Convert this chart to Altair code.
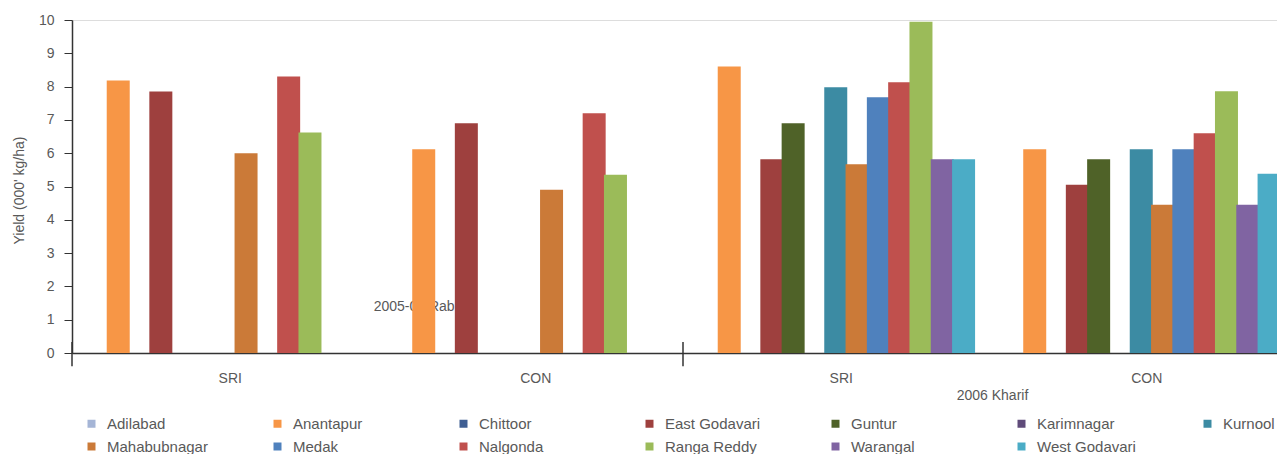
import altair as alt
import pandas as pd

districts = ["Adilabad", "Anantapur", "Chittoor", "East Godavari", "Guntur",
             "Karimnagar", "Kurnool", "Mahabubnagar", "Medak", "Nalgonda",
             "Ranga Reddy", "Warangal", "West Godavari"]
colors = ["#A5B5D6", "#F79646", "#3F5F93", "#9E403E", "#4F6228", "#5F4B7A",
          "#3C8BA3", "#CB7A38", "#4F81BD", "#C0504D", "#9BBB59", "#8064A2",
          "#4BACC6"]
seasons = ["2005-06 Rabi", "2006 Kharif"]
methods = ["SRI", "CON"]

rabi_sri = [None, 8.18, None, 7.85, None, None, None, 6.0, None, 8.3, 6.62, None, None]
rabi_con = [None, 6.12, None, 6.9, None, None, None, 4.9, None, 7.2, 5.35, None, None]
kharif_sri = [None, 8.6, None, 5.82, 6.9, None, 7.98, 5.67, 7.68, 8.13, 9.95, 5.82, 5.82]
kharif_con = [None, 6.12, None, 5.05, 5.82, None, 6.12, 4.45, 6.12, 6.6, 7.86, 4.45, 5.38]

rabi_label_y = 1.38

# category layout (in slot units): 4 groups of 13 district slots with outer padding
PAD = 0.67
G = len(districts) + 2 * PAD
group_names = [f"{s}|{m}" for s in seasons for m in methods]

rows = []
for gi, series in enumerate([rabi_sri, rabi_con, kharif_sri, kharif_con]):
    for di, (d, v) in enumerate(zip(districts, series)):
        if v is not None:
            rows.append({"group": group_names[gi], "district": d, "value": v,
                         "slot": gi * G + PAD + di + 0.5})
df = pd.DataFrame(rows)

FONT = "Liberation Sans"
GREY = "#595959"
W = 1205          # visible plot width (page stays within the window)
GROUPS_PX = 1222  # pixel span of the four groups (last group runs past the edge)
H = 333
D = 4 * G * W / GROUPS_PX

xscale = alt.Scale(domain=[0, D], nice=False, zero=False, padding=0)
yscale = alt.Scale(domain=[0, 10], nice=False)

label_js = "[" + ",".join(f"'{m}'" for _ in seasons for m in methods) + "]"
xaxis = alt.Axis(title=None, values=[gi * G + G / 2 for gi in range(4)],
                 labelExpr=f"{label_js}[floor(datum.value / {G})]",
                 ticks=False, grid=False, domainColor="#333333", domainWidth=1.5,
                 labelPadding=18, labelOffset=5, labelFlush=False, labelOverlap=False,
                 labelFontSize=14, labelColor=GREY, labelFont=FONT, labelAngle=0)
yaxis = alt.Axis(title="Yield (000' kg/ha)", values=list(range(11)),
                 labelOverlap=False, tickCount=11,
                 tickSize=8, tickColor="#333333", domainColor="#333333",
                 domainWidth=1.5, grid=False, labelPadding=10,
                 labelFontSize=14, labelColor=GREY, labelFont=FONT,
                 titleFont=FONT, titleFontSize=14, titleFontWeight="normal",
                 titleColor=GREY, titleX=-53, titleY=170,
                 titleAlign="center", titleBaseline="middle")

bars = alt.Chart(df).mark_bar(width=23).encode(
    x=alt.X("slot:Q", scale=xscale, axis=xaxis),
    y=alt.Y("value:Q", scale=yscale, axis=yaxis),
    color=alt.Color("district:N", scale=alt.Scale(domain=districts, range=colors),
                    legend=alt.Legend(title=None, orient="none", legendX=12, legendY=396,
                                      direction="horizontal", columns=7,
                                      symbolType="square", symbolSize=64,
                                      symbolStrokeWidth=0, labelFontSize=15,
                                      labelColor=GREY, labelFont=FONT,
                                      labelOffset=8, columnPadding=62,
                                      rowPadding=7, gridAlign="all", labelLimit=300)),
    order=alt.Order("slot:Q"),
)

# "2005-06 Rabi" sits inside the plot, behind the Rabi CON bars (as in the source)
rabi_df = pd.DataFrame({"slot": [1 * G + PAD + 1.5], "value": [rabi_label_y],
                        "label": [seasons[0]]})
rabi_text = alt.Chart(rabi_df).mark_text(dx=-8, fontSize=14, font=FONT, color=GREY).encode(
    x=alt.X("slot:Q", scale=xscale, axis=xaxis),
    y=alt.Y("value:Q", scale=yscale, axis=yaxis),
    text="label:N",
)

kharif_df = pd.DataFrame({"slot": [3 * G], "label": [seasons[1]]})
kharif_text = alt.Chart(kharif_df).mark_text(dx=4, fontSize=14, font=FONT, color=GREY,
                                             baseline="middle").encode(
    x=alt.X("slot:Q", scale=xscale, axis=xaxis),
    y=alt.value(H + 43),
    text="label:N",
)

sep_df = pd.DataFrame({"slot": [0, 2 * G], "y1": [-0.4, -0.4], "y2": [0.33, 0.33]})
seps = alt.Chart(sep_df).mark_rule(color="#333333", strokeWidth=1.5).encode(
    x=alt.X("slot:Q", scale=xscale, axis=xaxis),
    y=alt.Y("y1:Q", scale=yscale, axis=yaxis),
    y2="y2:Q",
)

chart = alt.layer(rabi_text, bars, seps, kharif_text).properties(
    width=W, height=H,
    autosize=alt.AutoSizeParams(type="none"),
    padding={"left": 64, "top": 12, "right": 0, "bottom": 101},
).configure_view(stroke=None).configure(font=FONT)

chart.save("out.html", embed_options={"renderer": "svg", "actions": False})
